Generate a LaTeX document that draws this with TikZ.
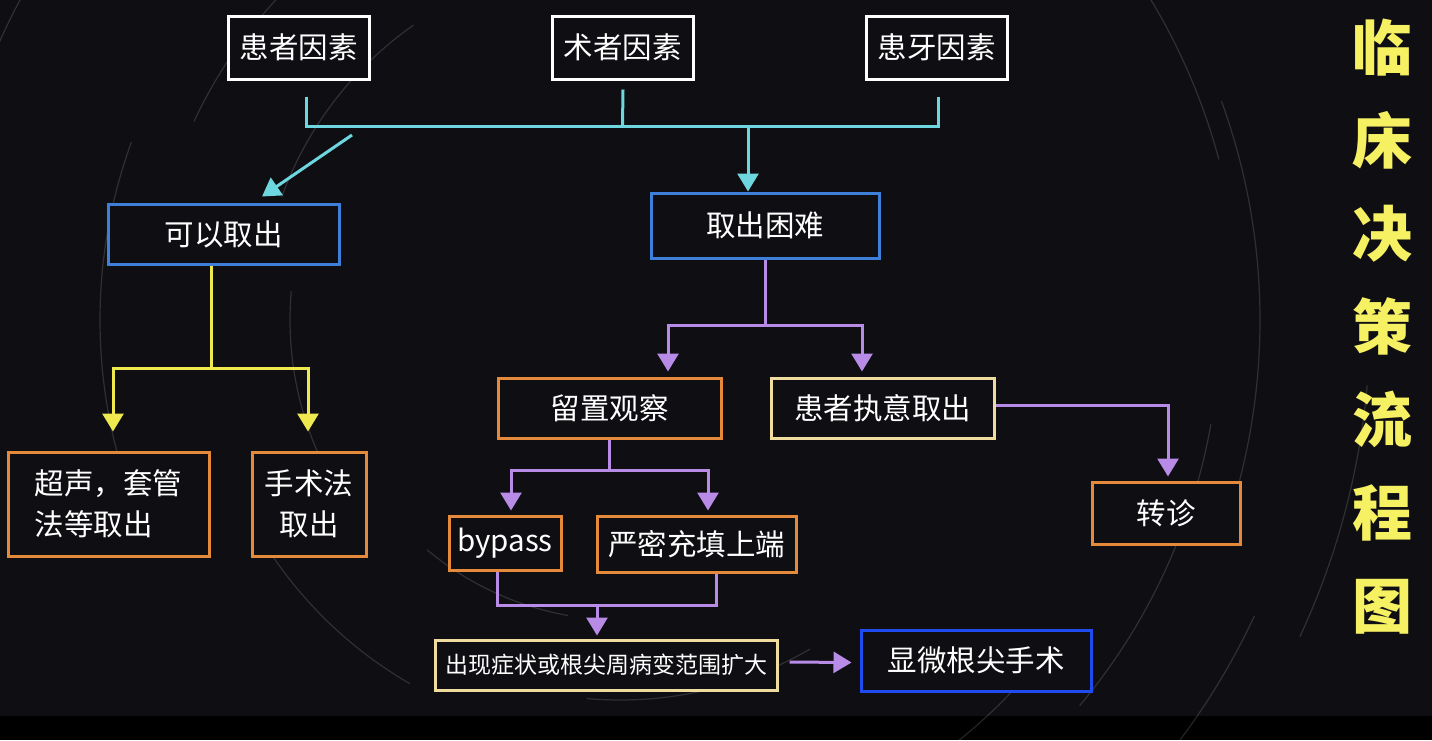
\documentclass[tikz,border=0pt]{standalone}
\usepackage{fontspec}
\setmainfont{Noto Sans CJK SC}
\usetikzlibrary{arrows.meta,calc}
\definecolor{bg}{HTML}{0E0E13}
\definecolor{cyl}{HTML}{6ED6DE}
\definecolor{yel}{HTML}{EFE84E}
\definecolor{pur}{HTML}{B88BE6}
\definecolor{blu}{HTML}{3D7FD9}
\definecolor{bblu}{HTML}{1F4CF0}
\definecolor{org}{HTML}{E5893A}
\definecolor{bei}{HTML}{F0DC9E}
\definecolor{ttl}{HTML}{F6F063}
\tikzset{
  box/.style={draw, line width=3pt, fill=bg, text=white, inner sep=0pt,
    font=\fontsize{29.5}{41}\selectfont},
  wbox/.style={box, draw=white, minimum width=141pt, minimum height=63pt},
  bbox/.style={box, draw=blu},
  Bbox/.style={box, draw=bblu},
  obox/.style={box, draw=org},
  ebox/.style={box, draw=bei},
  link/.style={line width=3pt},
  tip/.style={-{Triangle[width=21pt,length=18pt]}},
  trail/.style={draw=white, opacity=0.14, line width=1.2pt},
}
\begin{document}
\begin{tikzpicture}[x=1pt,y=-1pt]
\useasboundingbox (0,0) rectangle (1432,740);
\fill[bg] (0,0) rectangle (1432,740);
\fill[black] (0,716) rectangle (1432,740);
% faint star trails
\coordinate (C) at (620,320);
\foreach \r/\a/\b in {330/150/185, 360/200/235, 420/120/150, 470/205/240,
  520/160/200, 600/10/40, 640/-20/15, 700/25/50, 560/230/260, 380/60/95,
  450/80/110, 680/195/215, 750/5/25, 300/100/130, 540/40/70, 620/-40/-15}{
  \draw[trail] ($(C)+(\a:\r)$) arc[start angle=\a, end angle=\b, radius=\r];
}
% nodes
\node[wbox] (pf) at (298.5,47.5) {患者因素};
\node[wbox] (sf) at (622.5,47.5) {术者因素};
\node[wbox] (tf) at (936.5,47.5) {患牙因素};
\node[bbox, minimum width=231pt, minimum height=60pt] (can) at (223.5,234) {可以取出};
\node[bbox, minimum width=228pt, minimum height=65pt] (hard) at (765,225.5) {取出困难};
\node[obox, minimum width=201pt, minimum height=104pt, align=left] (us) at (108.5,504) {超声，套管\\法等取出};
\node[obox, minimum width=114pt, minimum height=104pt, align=center] (surg) at (309,504) {手术法\\取出};
\node[obox, minimum width=223pt, minimum height=60pt] (obs) at (609.5,408) {留置观察};
\node[ebox, minimum width=223pt, minimum height=60pt] (insist) at (882.5,408) {患者执意取出};
\node[obox, minimum width=148pt, minimum height=62pt] (ref) at (1166,513) {转诊};
\node[obox, minimum width=112pt, minimum height=54pt] (byp) at (505,543) {bypass};
\node[obox, minimum width=199pt, minimum height=56pt] (seal) at (696.5,544) {严密充填上端};
\node[ebox, minimum width=342pt, minimum height=50pt, font=\fontsize{23}{26}\selectfont] (sym) at (606,665) {出现症状或根尖周病变范围扩大};
\node[Bbox, minimum width=230pt, minimum height=61pt] (micro) at (976,660.5) {显微根尖手术};
\node[font=\fontsize{60}{93}\selectfont\bfseries, text=ttl, align=center, inner sep=0pt] (title) at (1382,327) {临\\床\\决\\策\\流\\程\\图};
% cyan bracket
\coordinate (cL) at (306,126);
\coordinate (cR) at (938,126);
\coordinate (cM) at (748,126);
\coordinate (cD) at (352,135);
\draw[link, cyl] ($(pf.south)+(7.5,16)$) -- (cL) -- (cR) -- ($(tf.south)+(1.5,16)$);
\draw[link, cyl] ($(sf.south)+(0.5,9)$) -- (sf.south |- cL);
\draw[link, cyl, tip] (cM) -- (cM |- hard.north);
\draw[link, cyl, tip] (cD) -- ($(can.north)+(38.5,-6)$);
% yellow
\coordinate (yJ) at (211,368);
\draw[link, yel] ($(can.south)+(-12.5,0)$) -- (yJ);
\draw[link, yel, tip] (yJ) -| ($(us.north)+(4.5,-19)$);
\draw[link, yel, tip] (yJ) -| ($(surg.north)+(-1,-19)$);
% purple
\coordinate (pJ) at (765,325);
\draw[link, pur] (hard.south) -- (pJ);
\draw[link, pur, tip] (pJ) -| ($(obs.north)+(58.5,-5)$);
\draw[link, pur, tip] (pJ) -| ($(insist.north)+(-20.5,-5)$);
\draw[link, pur, tip] ($(insist.east)+(0,-3)$) -| ($(ref.north)+(2,-4)$);
\coordinate (oJ) at (609.5,470);
\draw[link, pur] (obs.south) -- (oJ);
\draw[link, pur, tip] (oJ) -| ($(byp.north)+(6,-4)$);
\draw[link, pur, tip] (oJ) -| ($(seal.north)+(11.5,-4)$);
\coordinate (bJL) at (497,605);
\coordinate (bJR) at (716,605);
\coordinate (bM) at (597,605);
\draw[link, pur] ($(byp.south)+(-8,0)$) -- (bJL) -- (bJR) -- ($(seal.south)+(19.5,0)$);
\draw[link, pur, tip] (bM) -- ($(sym.north)+(-9,-3)$);
\draw[link, pur, tip] ($(sym.east)+(11,-3)$) -- ($(micro.west)+(-8,2)$);
\end{tikzpicture}
\end{document}
